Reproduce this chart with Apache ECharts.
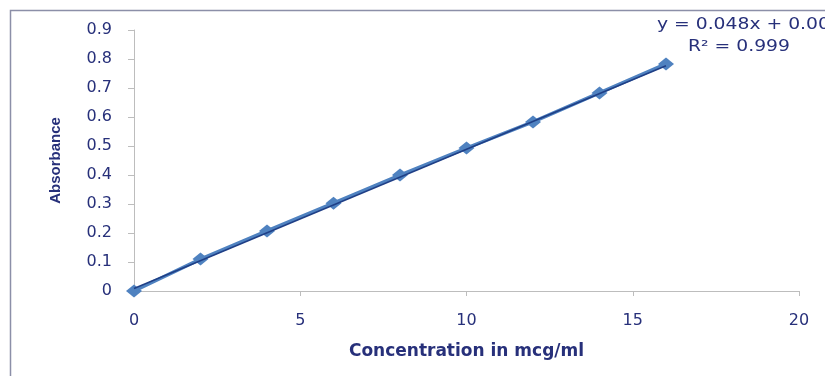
<!DOCTYPE html>
<html>
<head>
<meta charset="utf-8">
<script src="https://cdn.jsdelivr.net/npm/echarts@6/dist/echarts.min.js"></script>
<style>
  html, body { margin: 0; padding: 0; background: #fff; }
  #chart { width: 825px; height: 376px; }
</style>
</head>
<body>
<div id="chart"></div>
<script>
// Calibration data: concentration (mcg/ml) vs absorbance
const concentration = [0, 2, 4, 6, 8, 10, 12, 14, 16];
const absorbance = [0, 0.110, 0.207, 0.303, 0.400, 0.493, 0.583, 0.683, 0.783];

// Linear fit reported on the chart
const slope = 0.048;
const intercept = 0.009;
const rSquared = 0.999;
const fitRange = [0, 16];

const points = concentration.map((c, i) => [c, absorbance[i]]);
const fitLine = fitRange.map(x => [x, slope * x + intercept]);

const navy = '#27307a';
const axisGrey = '#bdbdbd';

const chart = echarts.init(document.getElementById('chart'), null, { renderer: 'canvas' });
chart.setOption({
  animation: false,
  backgroundColor: '#fff',
  grid: { left: 134, right: 26, top: 30, bottom: 85 },
  xAxis: {
    type: 'value',
    min: 0, max: 20, interval: 5,
    name: 'Concentration in mcg/ml',
    nameLocation: 'middle',
    nameGap: 52,
    nameTextStyle: { fontFamily: 'DejaVu Sans', fontWeight: 'bold', fontSize: 17, color: navy },
    axisLine: { lineStyle: { color: axisGrey, width: 1 } },
    axisTick: { show: true, length: 5, lineStyle: { color: axisGrey } },
    axisLabel: { margin: 22, fontFamily: 'DejaVu Sans', fontSize: 16, color: navy },
    splitLine: { show: false }
  },
  yAxis: {
    type: 'value',
    min: 0, max: 0.9, interval: 0.1,
    name: 'Absorbance',
    nameLocation: 'middle',
    nameGap: 71,
    nameTextStyle: {
      fontFamily: 'Liberation Sans',
      fontWeight: 'bold', fontSize: 15, color: navy
    },
    axisLine: { show: true, lineStyle: { color: axisGrey, width: 1 } },
    axisTick: { show: true, length: 6, lineStyle: { color: axisGrey } },
    axisLabel: {
      margin: 22, fontFamily: 'DejaVu Sans', fontSize: 16, color: navy,
      formatter: v => (v === 0 ? '0' : v.toFixed(1))
    },
    splitLine: { show: false }
  },
  series: [
    {
      name: 'Absorbance',
      type: 'line',
      data: points,
      symbol: 'diamond',
      symbolSize: [16, 13],
      lineStyle: { color: '#4f82c0', width: 3.5 },
      itemStyle: { color: '#4f82c0' },
      z: 2
    },
    {
      name: 'Linear fit',
      type: 'line',
      data: fitLine,
      symbol: 'none',
      lineStyle: { color: '#1f3f86', width: 1.6 },
      z: 3
    }
  ],
  graphic: [
    {
      type: 'rect',
      shape: { x: 10.5, y: 10.5, width: 840, height: 400 },
      style: { fill: null, stroke: '#8c8fa8', lineWidth: 1.5 },
      silent: true
    },
    {
      type: 'text',
      x: 657, y: 18,
      scaleX: 1.25,
      style: {
        text: 'y = ' + slope.toFixed(3) + 'x + ' + intercept.toFixed(3),
        fontFamily: 'DejaVu Sans', fontSize: 15, fill: navy
      }
    },
    {
      type: 'text',
      x: 739, y: 40,
      scaleX: 1.25,
      style: {
        text: 'R² = ' + rSquared.toFixed(3),
        align: 'center',
        fontFamily: 'DejaVu Sans', fontSize: 15, fill: navy
      }
    }
  ]
});
</script>
</body>
</html>
